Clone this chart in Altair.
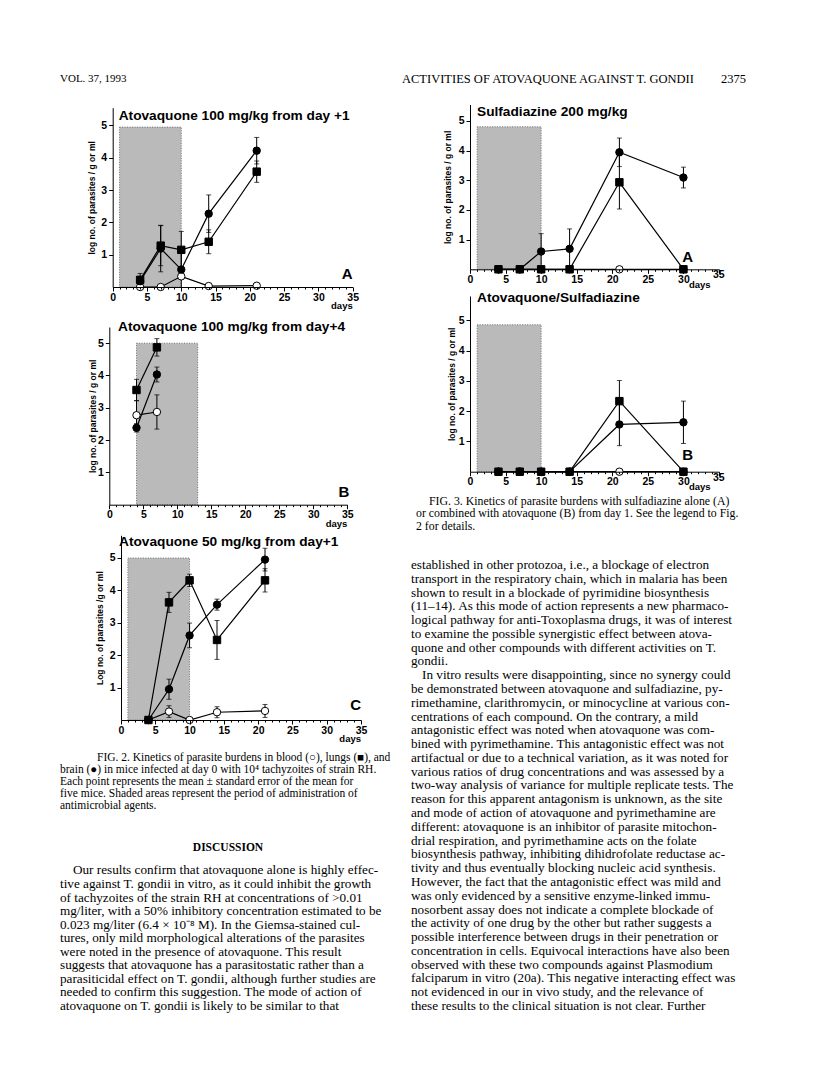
import altair as alt
import pandas as pd

# ---------------- data ----------------
series_names = ["blood", "lungs", "brain"]
y_ticks = [1, 2, 3, 4, 5]
x_minor_ticks = list(range(0, 36))

# Fig. 2A  Atovaquone 100 mg/kg from day +1
days_2a = [4, 7, 10, 14, 21]
blood_2a = [0.0, 0.0, 0.33, 0.03, 0.04]
blood_2a_se = [0, 0, 0, 0, 0]
lungs_2a = [0.22, 1.28, 1.15, 1.40, 3.57]
lungs_2a_se = [0.2, 0.62, 0.57, 0.37, 0.33]
brain_2a = [0.18, 1.19, 0.54, 2.27, 4.22]
brain_2a_se = [0.15, 0.72, 0.6, 0.58, 0.41]
shade_2a = [1, 10, 4.95]

# Fig. 2B  Atovaquone 100 mg/kg from day+4
days_2b = [4, 7]
blood_2b = [2.77, 2.87]
blood_2b_se = [0.45, 0.53]
lungs_2b = [3.55, 4.87]
lungs_2b_se = [0.33, 0.27]
brain_2b = [2.38, 4.03]
brain_2b_se = [0.13, 0.23]
shade_2b = [4, 13, 5.0]

# Fig. 2C  Atovaquone 50 mg/kg from day+1
days_2c = [4, 7, 10, 14, 21]
blood_2c = [0.0, 0.26, 0.0, 0.24, 0.28]
blood_2c_se = [0, 0.18, 0, 0.17, 0.2]
lungs_2c = [0.0, 3.63, 4.31, 2.47, 4.31]
lungs_2c_se = [0, 0.31, 0.19, 0.6, 0.36]
brain_2c = [0.0, 0.95, 2.61, 3.56, 4.95]
brain_2c_se = [0, 0.31, 0.38, 0.17, 0.35]
shade_2c = [1, 10, 5.0]

# Fig. 3A  Sulfadiazine 200 mg/kg
days_3 = [4, 7, 10, 14, 21, 30]
blood_3a = [0, 0, 0, 0, 0, 0]
blood_3a_se = [0, 0, 0, 0, 0, 0]
lungs_3a = [0, 0, 0, 0, 2.93, 0]
lungs_3a_se = [0, 0, 0, 0, 0.9, 0]
brain_3a = [0, 0, 0.6, 0.69, 3.94, 3.09]
brain_3a_se = [0, 0, 0.6, 0.67, 0.48, 0.35]
shade_3a = [1, 10, 4.8]

# Fig. 3B  Atovaquone/Sulfadiazine
blood_3b = [0, 0, 0, 0, 0, 0]
blood_3b_se = [0, 0, 0, 0, 0, 0]
lungs_3b = [0, 0, 0, 0, 2.33, 0]
lungs_3b_se = [0, 0, 0, 0, 0.68, 0]
brain_3b = [0, 0, 0, 0, 1.56, 1.63]
brain_3b_se = [0, 0, 0, 0, 0.7, 0.7]
shade_3b = [1, 10, 4.85]

# ---------------- text ----------------
header_left = "VOL. 37, 1993"
header_right = "ACTIVITIES OF ATOVAQUONE AGAINST T. GONDII"
page_no = "2375"

caption_fig2 = [
    "FIG. 2. Kinetics of parasite burdens in blood (\u25cb), lungs (\u25a0), and",
    "brain (\u25cf) in mice infected at day 0 with 10\u2074 tachyzoites of strain RH.",
    "Each point represents the mean \u00b1 standard error of the mean for",
    "five mice. Shaded areas represent the period of administration of",
    "antimicrobial agents.",
]
heading = "DISCUSSION"
body_left = [
    "Our results confirm that atovaquone alone is highly effec-",
    "tive against T. gondii in vitro, as it could inhibit the growth",
    "of tachyzoites of the strain RH at concentrations of >0.01",
    "mg/liter, with a 50% inhibitory concentration estimated to be",
    "0.023 mg/liter (6.4 \u00d7 10\u207b\u2078 M). In the Giemsa-stained cul-",
    "tures, only mild morphological alterations of the parasites",
    "were noted in the presence of atovaquone. This result",
    "suggests that atovaquone has a parasitostatic rather than a",
    "parasiticidal effect on T. gondii, although further studies are",
    "needed to confirm this suggestion. The mode of action of",
    "atovaquone on T. gondii is likely to be similar to that",
]
caption_fig3 = [
    "FIG. 3. Kinetics of parasite burdens with sulfadiazine alone (A)",
    "or combined with atovaquone (B) from day 1. See the legend to Fig.",
    "2 for details.",
]
body_right = [
    "established in other protozoa, i.e., a blockage of electron",
    "transport in the respiratory chain, which in malaria has been",
    "shown to result in a blockade of pyrimidine biosynthesis",
    "(11\u201314). As this mode of action represents a new pharmaco-",
    "logical pathway for anti-Toxoplasma drugs, it was of interest",
    "to examine the possible synergistic effect between atova-",
    "quone and other compounds with different activities on T.",
    "gondii.",
    "In vitro results were disappointing, since no synergy could",
    "be demonstrated between atovaquone and sulfadiazine, py-",
    "rimethamine, clarithromycin, or minocycline at various con-",
    "centrations of each compound. On the contrary, a mild",
    "antagonistic effect was noted when atovaquone was com-",
    "bined with pyrimethamine. This antagonistic effect was not",
    "artifactual or due to a technical variation, as it was noted for",
    "various ratios of drug concentrations and was assessed by a",
    "two-way analysis of variance for multiple replicate tests. The",
    "reason for this apparent antagonism is unknown, as the site",
    "and mode of action of atovaquone and pyrimethamine are",
    "different: atovaquone is an inhibitor of parasite mitochon-",
    "drial respiration, and pyrimethamine acts on the folate",
    "biosynthesis pathway, inhibiting dihidrofolate reductase ac-",
    "tivity and thus eventually blocking nucleic acid synthesis.",
    "However, the fact that the antagonistic effect was mild and",
    "was only evidenced by a sensitive enzyme-linked immu-",
    "nosorbent assay does not indicate a complete blockade of",
    "the activity of one drug by the other but rather suggests a",
    "possible interference between drugs in their penetration or",
    "concentration in cells. Equivocal interactions have also been",
    "observed with these two compounds against Plasmodium",
    "falciparum in vitro (20a). This negative interacting effect was",
    "not evidenced in our in vivo study, and the relevance of",
    "these results to the clinical situation is not clear. Further",
]
# paragraph-opening lines (indented)
par_fig2 = [0]
par_left = [0]
par_fig3 = [0]
par_right = [8]

SANS = "Liberation Sans"
SERIF = "Liberation Serif"
W, H = 800, 1070   # page canvas (page pixel minus the 8px body margin)


def text_block(lines, x0, y0, lh, size, indent_rows=(), indent=0,
               font=SERIF, weight="normal"):
    df = pd.DataFrame({"t": lines, "i": list(range(len(lines)))})
    df["par"] = df["i"].isin(list(indent_rows))
    out = []
    for flag, xx in [(False, x0), (True, x0 + indent)]:
        out.append(alt.Chart(df).transform_filter(
            "datum.par" if flag else "!datum.par"
        ).mark_text(
            align="left", baseline="middle", font=font, fontSize=size,
            fontWeight=weight, color="black"
        ).encode(
            x=alt.value(xx),
            y=alt.Y("i:Q", scale=alt.Scale(domain=[0, 1], range=[y0, y0 + lh]), axis=None),
            text="t:N",
        ))
    return out


def label(txt, x, y, size, weight="bold", align="left", font=SANS, baseline="middle"):
    return alt.Chart(pd.DataFrame({"t": [txt]})).mark_text(
        align=align, baseline=baseline, font=font, fontSize=size,
        fontWeight=weight, color="black"
    ).encode(x=alt.value(x), y=alt.value(y), text="t:N")


def panel(days, series, shade, ymax, x0, pw, top, bottom, title, tx, ty,
          letter, lx, ly, ytitle, ypad, fig3=False):
    recs = []
    for name, vals, ses in series:
        for d, v, s in zip(days, vals, ses):
            recs.append({"day": d, "series": name, "v": v, "se": s})
    df = pd.DataFrame(recs)
    xscale = alt.Scale(domain=[0, 35], range=[x0, x0 + pw], nice=False, zero=False)
    yscale = alt.Scale(domain=[0, ymax], range=[bottom, top], nice=False)
    cond = "datum.value % 5 == 0" + (" && datum.value < 35" if fig3 else "")
    xaxis = alt.Axis(
        orient="bottom", offset=bottom - H,
        values=x_minor_ticks, labelExpr=f"{cond} ? datum.label : ''",
        tickSize={"condition": {"test": "datum.value % 5 == 0", "value": 4}, "value": 2},
        title=None, grid=False, labelOverlap=False, labelFlush=False,
        labelFont=SANS, labelFontWeight="bold", labelFontSize=10.5, labelPadding=1,
        domainColor="black", tickColor="black", labelColor="black", zindex=1,
    )
    yaxis = alt.Axis(
        orient="left", offset=-x0,
        values=y_ticks, title=ytitle, titleFont=SANS, titleFontWeight="bold",
        titleFontSize=8.5, titlePadding=ypad, titleColor="black",
        labelFont=SANS, labelFontWeight="bold", labelFontSize=10.5, labelPadding=2,
        tickSize=4, grid=False, domainColor="black", tickColor="black",
        labelColor="black", zindex=1,
    )

    def X(f):
        return alt.X(f, scale=xscale, axis=xaxis)

    def Y(f):
        return alt.Y(f, scale=yscale, axis=yaxis)

    shade_df = pd.DataFrame({"start": [shade[0]], "end": [shade[1]],
                             "top": [shade[2]], "bottom": [0.0]})
    shade_layer = alt.Chart(shade_df).mark_rect(
        fill="#bababa", stroke="#555555", strokeWidth=0.8, strokeDash=[1, 1.5]
    ).encode(x=X("start:Q"), x2="end:Q", y=Y("bottom:Q"), y2="top:Q")

    base = alt.Chart(df)
    lines = base.mark_line(color="black", strokeWidth=1.2).encode(
        x=X("day:Q"), y=Y("v:Q"), detail="series:N", order="day:Q")
    err = base.transform_filter("datum.se > 0").transform_calculate(
        lo="max(0, datum.v - datum.se)", hi="datum.v + datum.se")
    rules = err.mark_rule(color="black", strokeWidth=1).encode(
        x=X("day:Q"), y=Y("lo:Q"), y2="hi:Q")
    cap_hi = err.mark_tick(orient="horizontal", size=5, thickness=1, color="black").encode(
        x=X("day:Q"), y=Y("hi:Q"))
    cap_lo = err.transform_filter("datum.lo > 0").mark_tick(
        orient="horizontal", size=5, thickness=1, color="black").encode(
        x=X("day:Q"), y=Y("lo:Q"))
    pts = base.mark_point(size=55, opacity=1, stroke="black", strokeWidth=1).encode(
        x=X("day:Q"), y=Y("v:Q"),
        shape=alt.Shape("series:N", scale=alt.Scale(domain=series_names,
                        range=["circle", "square", "circle"]), legend=None),
        fill=alt.Fill("series:N", scale=alt.Scale(domain=series_names,
                      range=["white", "black", "black"]), legend=None),
    )
    layers = [shade_layer, lines, rules, cap_hi, cap_lo, pts,
              label(title, x0 + tx, top + ty, 13.7),
              label(letter, x0 + lx, top + ly, 15, align="right")]
    if fig3:
        layers.append(label("days", x0 + 219, bottom + 15.5, 9.5))
        layers.append(label("35", x0 + 243, bottom + 6, 10.5))
    else:
        layers.append(label("days", x0 + pw, bottom + 19, 9.5, align="right"))
    return alt.layer(*layers)


# page coordinates below are (screen pixel - 8)
ch_2a = panel(days_2a, [("blood", blood_2a, blood_2a_se), ("lungs", lungs_2a, lungs_2a_se),
                        ("brain", brain_2a, brain_2a_se)], shade_2a, 5.55,
              104.7, 240, 99.7, 279,
              "Atovaquone 100 mg/kg from day +1", 6, 8.5, "A", 240, 166,
              "log no. of parasites / g or ml", 4)
ch_2b = panel(days_2b, [("blood", blood_2b, blood_2b_se), ("lungs", lungs_2b, lungs_2b_se),
                        ("brain", brain_2b, brain_2b_se)], shade_2b, 5.5,
              101.3, 238, 319, 496.7,
              "Atovaquone 100 mg/kg from day+4", 8.7, 0, "B", 240, 164.7,
              "log no. of parasites / g or ml", 0)
ch_2c = panel(days_2c, [("blood", blood_2c, blood_2c_se), ("lungs", lungs_2c, lungs_2c_se),
                        ("brain", brain_2c, brain_2c_se)], shade_2c, 5.7,
              113, 240, 527.3, 712,
              "Atovaquone 50 mg/kg from day+1", -2, 6.7, "C", 240, 169.7,
              "Log no. of parasites /g or ml", 5)
ch_3a = panel(days_3, [("blood", blood_3a, blood_3a_se), ("lungs", lungs_3a, lungs_3a_se),
                       ("brain", brain_3a, brain_3a_se)], shade_3a, 5.55,
              462, 249, 96.5, 261.3,
              "Sulfadiazine 200 mg/kg", 7, 7.5, "A", 223, 152.5,
              "log no. of parasites / g or ml", 6, fig3=True)
ch_3b = panel(days_3, [("blood", blood_3b, blood_3b_se), ("lungs", lungs_3b, lungs_3b_se),
                       ("brain", brain_3b, brain_3b_se)], shade_3b, 5.8,
              462, 249, 288, 463.7,
              "Atovaquone/Sulfadiazine", 7, 2, "B", 223, 159,
              "log no. of parasites / g or ml", 2, fig3=True)

texts = [
    label(header_left, 52, 71, 11, weight="normal", font=SERIF),
    label(header_right, 394, 71, 12.5, weight="normal", font=SERIF),
    label(page_no, 738, 71, 12.5, weight="normal", font=SERIF, align="right"),
    *text_block(caption_fig2, 52, 750, 12, 11.5, par_fig2, 37),
    label(heading, 220, 840, 11.5, font=SERIF, align="center"),
    *text_block(body_left, 52, 862.4, 13.56, 13.2, par_left, 13),
    *text_block(caption_fig3, 408, 493, 12.3, 11.8, par_fig3, 13),
    *text_block(body_right, 403, 557, 13.78, 13.2, par_right, 11),
]

chart = alt.layer(ch_2a, ch_2b, ch_2c, ch_3a, ch_3b, *texts).resolve_scale(
    x="independent", y="independent"
).properties(width=W, height=H, padding=0, background="white").configure_view(stroke=None)

chart.save("out.html", embed_options={"renderer": "svg", "actions": False})
